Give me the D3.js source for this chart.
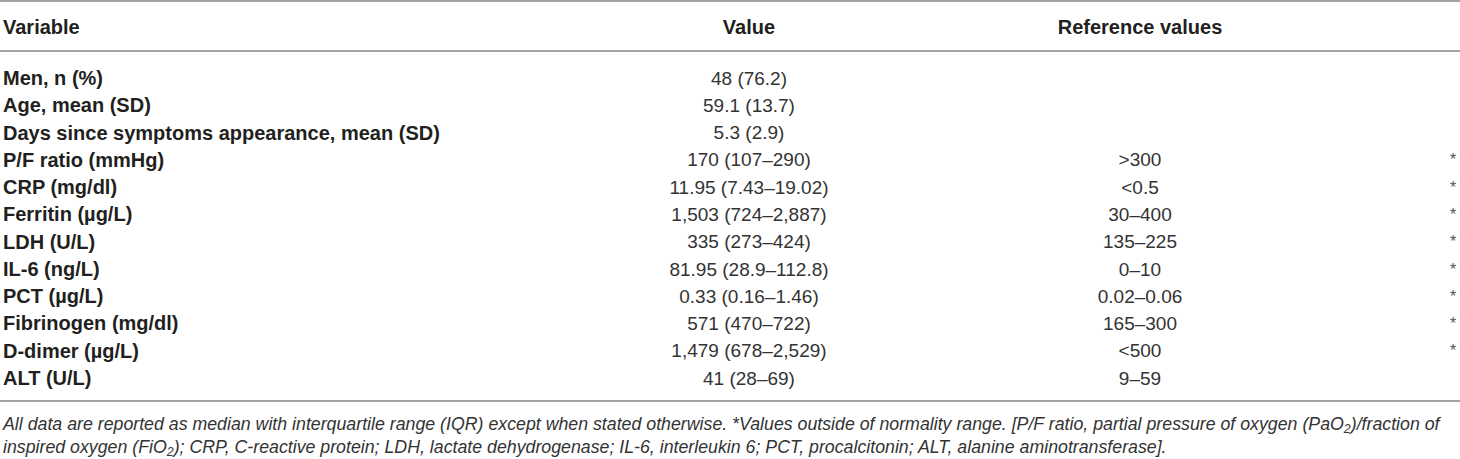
<!DOCTYPE html>
<html>
<head>
<meta charset="utf-8">
<script src="https://cdn.jsdelivr.net/npm/d3@7"></script>
<style>
  html, body { margin: 0; padding: 0; background: #fff; }
  svg { display: block; font-family: "Liberation Sans", Arial, Helvetica, sans-serif; }
</style>
</head>
<body>
<svg id="table"></svg>
<script>
// Table content
const headers = ["Variable", "Value", "Reference values"];

const variables = [
    "Men, n (%)",
    "Age, mean (SD)",
    "Days since symptoms appearance, mean (SD)",
    "P/F ratio (mmHg)",
    "CRP (mg/dl)",
    "Ferritin (µg/L)",
    "LDH (U/L)",
    "IL-6 (ng/L)",
    "PCT (µg/L)",
    "Fibrinogen (mg/dl)",
    "D-dimer (µg/L)",
    "ALT (U/L)"
];

const values = [
    "48 (76.2)",
    "59.1 (13.7)",
    "5.3 (2.9)",
    "170 (107–290)",
    "11.95 (7.43–19.02)",
    "1,503 (724–2,887)",
    "335 (273–424)",
    "81.95 (28.9–112.8)",
    "0.33 (0.16–1.46)",
    "571 (470–722)",
    "1,479 (678–2,529)",
    "41 (28–69)"
];

const refValues = ["", "", "", ">300", "<0.5", "30–400", "135–225", "0–10", "0.02–0.06", "165–300", "<500", "9–59"];

// rows flagged with * (outside normality range)
const outsideRange = [false, false, false, true, true, true, true, true, true, true, true, false];

const width = 1460;
const height = 459;

const svg = d3.select("#table")
    .attr("width", width)
    .attr("height", height);

// column positions
const xCol = d3.scaleOrdinal()
    .domain(["var", "val", "ref", "flag"])
    .range([3, 749, 1140, 1453]);

// row positions
const rowIndex = d3.range(variables.length);
const yRow = d3.scaleLinear()
    .domain([0, variables.length - 1])
    .range([78, 378]);

const ruleColor = "#a3a3a3";
const textColor = "#231f20";

// Horizontal rules
[1, 51, 401].forEach(y => {
    svg.append("line")
        .attr("x1", 0)
        .attr("x2", width)
        .attr("y1", y)
        .attr("y2", y)
        .attr("stroke", ruleColor)
        .attr("stroke-width", 2);
});

// Header
const headerG = svg.append("g")
    .attr("font-weight", "bold")
    .attr("font-size", "20px")
    .attr("fill", textColor);

headerG.append("text")
    .attr("x", xCol("var"))
    .attr("y", 27)
    .attr("dy", "0.35em")
    .text(headers[0]);

headerG.append("text")
    .attr("x", xCol("val"))
    .attr("y", 27)
    .attr("dy", "0.35em")
    .attr("text-anchor", "middle")
    .text(headers[1]);

headerG.append("text")
    .attr("x", xCol("ref"))
    .attr("y", 27)
    .attr("dy", "0.35em")
    .attr("text-anchor", "middle")
    .text(headers[2]);

// Body rows
const rows = svg.append("g")
    .selectAll("g.row")
    .data(rowIndex)
    .enter()
    .append("g")
    .attr("class", "row")
    .attr("transform", i => `translate(0, ${yRow(i)})`);

rows.append("text")
    .attr("x", xCol("var"))
    .attr("dy", "0.35em")
    .attr("font-weight", "bold")
    .attr("font-size", "20px")
    .attr("fill", textColor)
    .text(i => variables[i]);

rows.append("text")
    .attr("x", xCol("val"))
    .attr("dy", "0.35em")
    .attr("text-anchor", "middle")
    .attr("font-size", "19px")
    .attr("fill", "#333")
    .text(i => values[i]);

rows.append("text")
    .attr("x", xCol("ref"))
    .attr("dy", "0.35em")
    .attr("text-anchor", "middle")
    .attr("font-size", "19px")
    .attr("fill", "#333")
    .text(i => refValues[i]);

rows.filter(i => outsideRange[i])
    .append("text")
    .attr("x", xCol("flag"))
    .attr("dy", "0.35em")
    .attr("text-anchor", "middle")
    .attr("font-size", "16px")
    .attr("fill", "#555")
    .text("*");

// Footnote, with subscripts
const footLines = [
    [
        { t: "All data are reported as median with interquartile range (IQR) except when stated otherwise. *Values outside of normality range. [P/F ratio, partial pressure of oxygen (PaO" },
        { t: "2", sub: true },
        { t: ")/fraction of" }
    ],
    [
        { t: "inspired oxygen (FiO" },
        { t: "2", sub: true },
        { t: "); CRP, C-reactive protein; LDH, lactate dehydrogenase; IL-6, interleukin 6; PCT, procalcitonin; ALT, alanine aminotransferase]." }
    ]
];

const footG = svg.append("g")
    .attr("font-style", "italic")
    .attr("font-size", "17px")
    .attr("fill", "#333");

const footTexts = footG.selectAll("text")
    .data(footLines)
    .enter()
    .append("text")
    .attr("x", 3)
    .attr("y", (d, i) => [424, 447][i])
    .attr("dy", "0.35em");

footTexts.selectAll("tspan")
    .data(d => d)
    .enter()
    .append("tspan")
    .attr("font-size", d => d.sub ? "0.7em" : null)
    .attr("baseline-shift", d => d.sub ? "-25%" : null)
    .text(d => d.t);

// fit first footnote line to the table width
const firstLen = footTexts.node().getComputedTextLength();
const fs = 17 * 1437 / firstLen;
footG.attr("font-size", fs + "px");
</script>
</body>
</html>
